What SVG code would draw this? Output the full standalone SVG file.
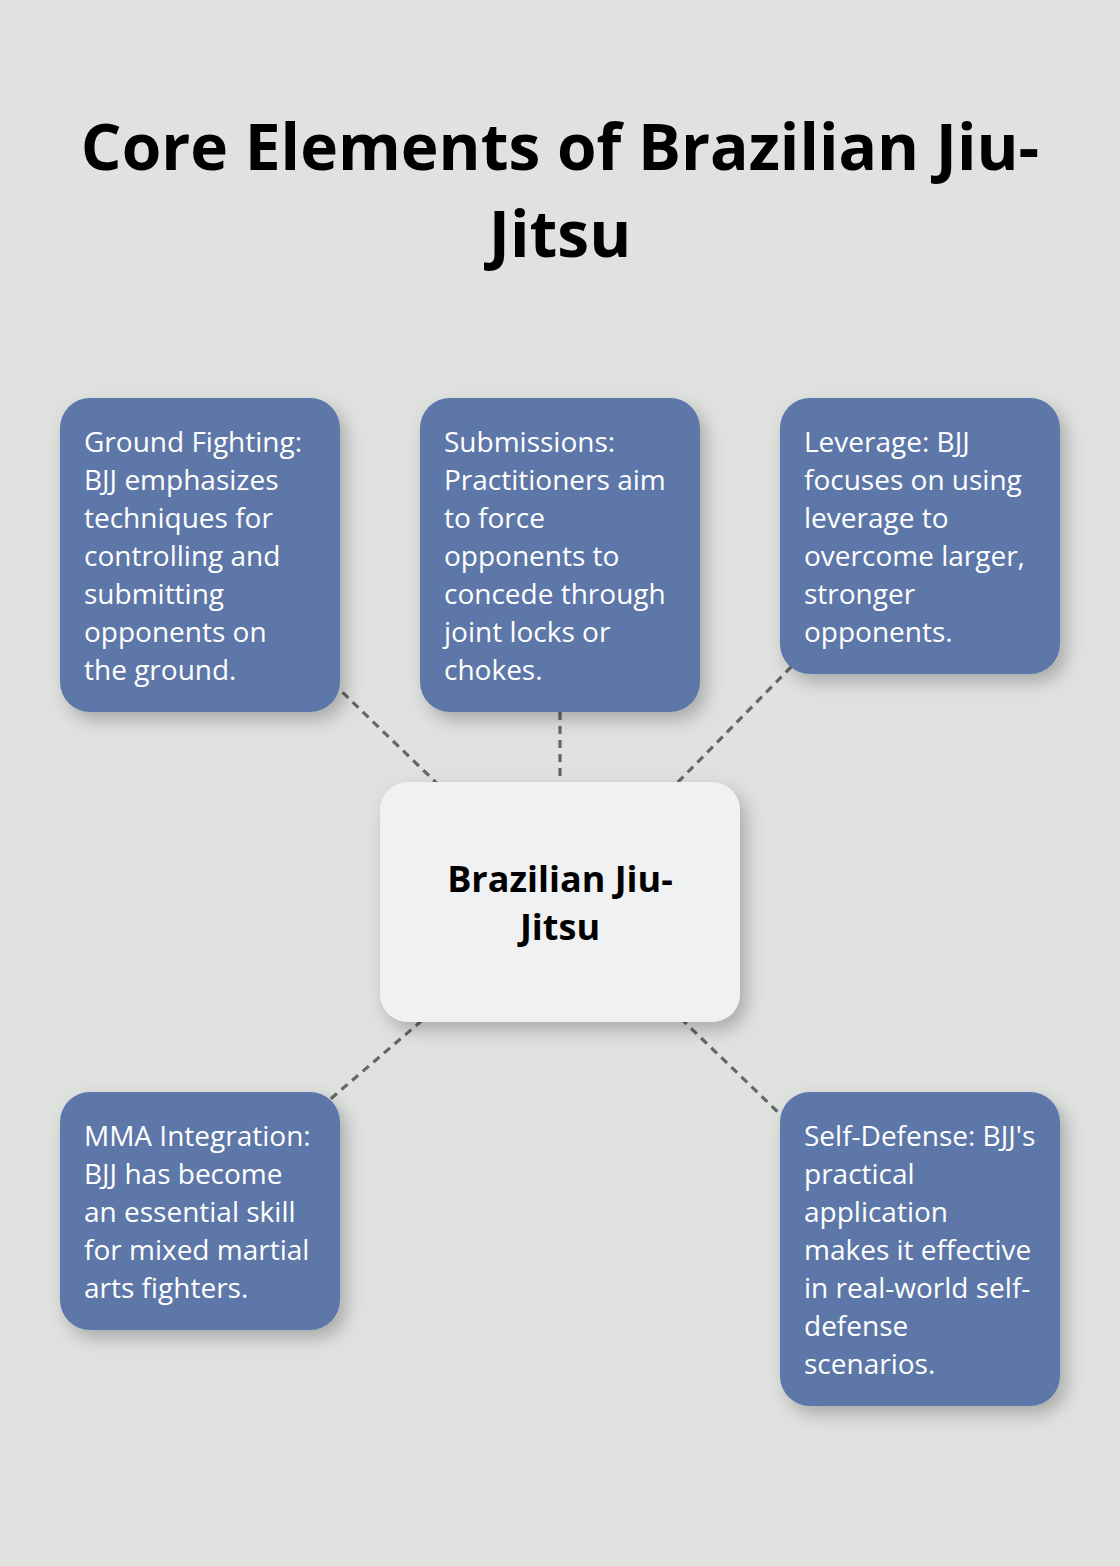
<svg xmlns="http://www.w3.org/2000/svg" width="1120" height="1566" viewBox="0 0 1120 1566">
<defs>
<filter id="sh" x="-25%" y="-25%" width="160%" height="160%">
<feDropShadow dx="6" dy="8" stdDeviation="9" flood-color="#000" flood-opacity="0.25"/>
</filter>
<style>
.bg{fill:#e0e2e0}
.title{font-family:"Open Sans","Noto Sans",sans-serif;font-weight:700;font-size:64px;fill:#000;text-anchor:middle}
.box{fill:#5d77a8;filter:url(#sh)}
.center{fill:#f0f1f3;filter:url(#sh)}
.txt{font-family:"Open Sans","Noto Sans",sans-serif;font-size:28px;fill:#fff}
.ctxt{font-family:"Open Sans","Noto Sans",sans-serif;font-weight:700;font-size:36px;fill:#000;text-anchor:middle}
.conn line{stroke:#666;stroke-width:3.2;stroke-dasharray:8 6;fill:none}
</style>
</defs>
<rect class="bg" x="0" y="0" width="1120" height="1566"/>
<g id="title">
<text class="title" x="560" y="170">Core Elements of Brazilian Jiu-</text>
<text class="title" x="560" y="257">Jitsu</text>
</g>
<g id="connectors" class="conn">
<line x1="560" y1="902" x2="200" y2="555"/>
<line x1="560" y1="902" x2="560" y2="555"/>
<line x1="560" y1="902" x2="920" y2="536"/>
<line x1="560" y1="902" x2="200" y2="1211"/>
<line x1="560" y1="902" x2="920" y2="1249"/>
</g>
<g id="node-ground">
<rect class="box" x="60" y="398" width="280" height="314" rx="30"/>
<text class="txt" x="84" y="452">Ground Fighting:</text>
<text class="txt" x="84" y="490">BJJ emphasizes</text>
<text class="txt" x="84" y="528">techniques for</text>
<text class="txt" x="84" y="566">controlling and</text>
<text class="txt" x="84" y="604">submitting</text>
<text class="txt" x="84" y="642">opponents on</text>
<text class="txt" x="84" y="680">the ground.</text>
</g>
<g id="node-submissions">
<rect class="box" x="420" y="398" width="280" height="314" rx="30"/>
<text class="txt" x="444" y="452">Submissions:</text>
<text class="txt" x="444" y="490">Practitioners aim</text>
<text class="txt" x="444" y="528">to force</text>
<text class="txt" x="444" y="566">opponents to</text>
<text class="txt" x="444" y="604">concede through</text>
<text class="txt" x="444" y="642">joint locks or</text>
<text class="txt" x="444" y="680">chokes.</text>
</g>
<g id="node-leverage">
<rect class="box" x="780" y="398" width="280" height="276" rx="30"/>
<text class="txt" x="804" y="452">Leverage: BJJ</text>
<text class="txt" x="804" y="490">focuses on using</text>
<text class="txt" x="804" y="528">leverage to</text>
<text class="txt" x="804" y="566">overcome larger,</text>
<text class="txt" x="804" y="604">stronger</text>
<text class="txt" x="804" y="642">opponents.</text>
</g>
<g id="node-center">
<rect class="center" x="380" y="782" width="360" height="240" rx="28"/>
<text class="ctxt" x="560" y="892">Brazilian Jiu-</text>
<text class="ctxt" x="560" y="940">Jitsu</text>
</g>
<g id="node-mma">
<rect class="box" x="60" y="1092" width="280" height="238" rx="30"/>
<text class="txt" x="84" y="1146">MMA Integration:</text>
<text class="txt" x="84" y="1184">BJJ has become</text>
<text class="txt" x="84" y="1222">an essential skill</text>
<text class="txt" x="84" y="1260">for mixed martial</text>
<text class="txt" x="84" y="1298">arts fighters.</text>
</g>
<g id="node-selfdefense">
<rect class="box" x="780" y="1092" width="280" height="314" rx="30"/>
<text class="txt" x="804" y="1146">Self-Defense: BJJ's</text>
<text class="txt" x="804" y="1184">practical</text>
<text class="txt" x="804" y="1222">application</text>
<text class="txt" x="804" y="1260">makes it effective</text>
<text class="txt" x="804" y="1298">in real-world self-</text>
<text class="txt" x="804" y="1336">defense</text>
<text class="txt" x="804" y="1374">scenarios.</text>
</g>
</svg>
